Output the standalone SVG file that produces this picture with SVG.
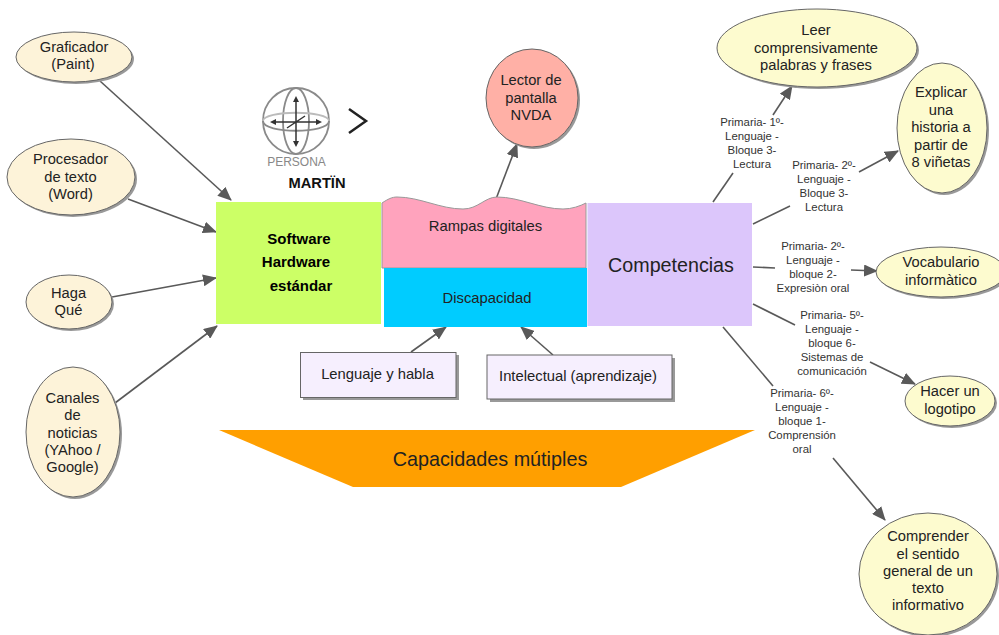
<svg xmlns="http://www.w3.org/2000/svg" width="999" height="635" viewBox="0 0 999 635">
<defs>
<marker id="arr" viewBox="0 0 14 12" refX="13" refY="6" markerWidth="14" markerHeight="12" markerUnits="userSpaceOnUse" orient="auto"><path d="M0 0L14 6L0 12Z" fill="#595959"/></marker>
</defs>
<style>
text{font-family:"Liberation Sans",Arial,sans-serif;fill:#222;text-anchor:middle}
.c{fill:none;stroke:#595959;stroke-width:1.6}
.a{marker-end:url(#arr)}
.s{fill:#999}
.n{stroke:#666;stroke-width:1}
.y{fill:#fdfbcf}
.o{fill:#fdf3d9}
.t{font-size:14.7px}
.l{font-size:11.4px;fill:#333}
.b{font-size:14.8px}
</style>
<rect width="999" height="635" fill="#fff"/>
<g id="connectors">
<path class="c a" d="M100 81L231 200"/>
<path class="c a" d="M128 199L216 232"/>
<path class="c a" d="M112 297L216 278"/>
<path class="c a" d="M115 403L217 326"/>
<path class="c a" d="M496 199L517 144"/>
<path class="c" d="M713 202L733 173"/>
<path class="c a" d="M773 115L792 86"/>
<path class="c" d="M753 224L790 206"/>
<path class="c a" d="M859 172L898 151"/>
<path class="c" d="M753 267L775 268"/>
<path class="c a" d="M851 270L877 271"/>
<path class="c" d="M753 304L795 325"/>
<path class="c a" d="M870 362L915 384"/>
<path class="c" d="M723 327L773 386"/>
<path class="c a" d="M833 458L885 520"/>
<path class="c a" d="M411 352L446 327"/>
<path class="c a" d="M553 355L521 327"/>
</g>
<g id="graficador"><ellipse class="s" cx="76" cy="59" rx="58" ry="25"/><ellipse class="n o" cx="74" cy="57" rx="58" ry="25"/><text class="t" x="74" y="52">Graficador</text><text class="t" x="73" y="69">(Paint)</text></g>
<g id="procesador"><ellipse class="s" cx="73" cy="179" rx="64" ry="38"/><ellipse class="n o" cx="71" cy="177" rx="64" ry="38"/><text class="t" x="70.500" y="164">Procesador</text><text class="t" x="70.500" y="182">de texto</text><text class="t" x="70.500" y="199">(Word)</text></g>
<g id="haga"><ellipse class="s" cx="71" cy="304" rx="43" ry="27"/><ellipse class="n o" cx="69" cy="302" rx="43" ry="27"/><text class="t" x="68.500" y="298">Haga</text><text class="t" x="68.500" y="315">Qué</text></g>
<g id="canales"><ellipse class="s" cx="75" cy="434" rx="47" ry="65"/><ellipse class="n o" cx="73" cy="432" rx="47" ry="65"/><text class="t" x="72.500" y="403">Canales</text><text class="t" x="72.500" y="420">de</text><text class="t" x="72.500" y="438">noticias</text><text class="t" x="72.500" y="455">(YAhoo /</text><text class="t" x="72.500" y="472">Google)</text></g>
<g id="persona">
<g fill="none" stroke="#8a8a8a" stroke-width="1.8"><circle cx="296" cy="121" r="33"/><ellipse cx="296" cy="121" rx="13" ry="33"/><path d="M263 121C263 110 329 110 329 121" stroke="#bbb"/><path d="M263 121C263 134 329 134 329 121"/></g>
<path d="M296 100V143M273 122H318M287 128L305 116" stroke="#333" stroke-width="1.500" fill="none"/>
<path d="M296 96l-3 6h6zM296 147l-3 -6h6zM270 122l6 -3v6zM322 122l-6 -3v6z" fill="#333"/>
<text x="296.500" y="166" style="font-size:12px;fill:#888">PERSONA</text>
<path d="M349 109L366 121L349 133" fill="none" stroke="#222" stroke-width="2.500"/>
<text x="317" y="188" style="font-size:14.700px;font-weight:bold;fill:#111">MARTÏN</text>
</g>
<g id="lector"><ellipse class="s" cx="534" cy="100" rx="46" ry="49"/><ellipse class="n" cx="532" cy="98" rx="46" ry="49" fill="#ffb0a6"/><text class="t" x="531" y="85">Lector de</text><text class="t" x="531" y="103">pantalla</text><text class="t" x="531" y="120">NVDA</text></g>
<g id="software"><rect x="216" y="202" width="165" height="122" fill="#ccff66"/><g style="font-size:15px;font-weight:bold"><text x="299" y="244" style="fill:#000">Software</text><text x="296" y="267" style="fill:#000">Hardware</text><text x="301" y="291" style="fill:#000">estándar</text></g></g>
<g id="rampas"><path d="M382 203C388 199 392 197 397 197C420 197 440 209 463 209C478 209 485 197 497 197C520 197 540 209 563 209C572 209 580 206 586 203V268H382Z" fill="#ffa3bd" stroke="#999"/><text class="b" x="485.500" y="231">Rampas digitales</text></g>
<g id="discapacidad"><rect x="384" y="268" width="203" height="59" fill="#00ccff"/><text class="b" x="487" y="303">Discapacidad</text></g>
<g id="competencias"><rect x="587.500" y="203" width="164.500" height="123" fill="#dcc6fb"/><text x="671" y="272" style="font-size:19.700px">Competencias</text></g>
<g id="lenguaje"><rect x="303" y="355" width="156" height="45" class="s"/><rect x="300.500" y="352.500" width="155.500" height="45" class="n" fill="#f6effe"/><text class="b" x="377.500" y="379">Lenguaje y habla</text></g>
<g id="intelectual"><rect x="490" y="358" width="185" height="44" class="s"/><rect x="487" y="355" width="185" height="44" class="n" fill="#f6effe"/><text class="b" x="578" y="381">Intelectual (aprendizaje)</text></g>
<g id="capacidades"><path d="M219 430H755L621 487H353Z" fill="#ff9f00"/><text x="490" y="466" style="font-size:19.800px">Capacidades mútiples</text></g>
<g id="leer"><ellipse class="s" cx="819" cy="50" rx="100" ry="39"/><ellipse class="n y" cx="817" cy="48" rx="100" ry="39"/><text class="t" x="816" y="35">Leer</text><text class="t" x="816" y="53">comprensivamente</text><text class="t" x="816" y="70">palabras y frases</text></g>
<g id="explicar"><ellipse class="s" cx="944" cy="130" rx="45" ry="65"/><ellipse class="n y" cx="942" cy="128" rx="45" ry="65"/><text class="t" x="941" y="97">Explicar</text><text class="t" x="941" y="115">una</text><text class="t" x="941" y="132">historia a</text><text class="t" x="941" y="150">partir de</text><text class="t" x="941" y="167">8 viñetas</text></g>
<g id="vocabulario"><ellipse class="s" cx="943" cy="274" rx="65" ry="25"/><ellipse class="n y" cx="941" cy="272" rx="65" ry="25"/><text class="t" x="941" y="267">Vocabulario</text><text class="t" x="941" y="285">informàtico</text></g>
<g id="logotipo"><ellipse class="s" cx="952" cy="403" rx="45" ry="25"/><ellipse class="n y" cx="950" cy="401" rx="45" ry="25"/><text class="t" x="950" y="396">Hacer un</text><text class="t" x="950" y="414">logotipo</text></g>
<g id="comprender"><ellipse class="s" cx="930" cy="576" rx="69" ry="61"/><ellipse class="n y" cx="928" cy="574" rx="69" ry="61"/><text class="t" x="928" y="541">Comprender</text><text class="t" x="928" y="559">el sentido</text><text class="t" x="928" y="576">general de un</text><text class="t" x="928" y="593">texto</text><text class="t" x="928" y="610">informativo</text></g>
<g id="labels">
<text class="l" x="752" y="126">Primaria- 1º-</text><text class="l" x="752" y="140">Lenguaje -</text><text class="l" x="752" y="154">Bloque 3-</text><text class="l" x="752" y="168">Lectura</text>
<text class="l" x="824" y="169">Primaria- 2º-</text><text class="l" x="824" y="183">Lenguaje -</text><text class="l" x="824" y="197">Bloque 3-</text><text class="l" x="824" y="211">Lectura</text>
<text class="l" x="813" y="250">Primaria- 2º-</text><text class="l" x="813" y="264">Lenguaje -</text><text class="l" x="813" y="278">bloque 2-</text><text class="l" x="813" y="292">Expresiòn oral</text>
<text class="l" x="832" y="319">Primaria- 5º-</text><text class="l" x="832" y="333">Lenguaje -</text><text class="l" x="832" y="347">bloque 6-</text><text class="l" x="832" y="361">Sistemas de</text><text class="l" x="832" y="375">comunicación</text>
<text class="l" x="802" y="397">Primaria- 6º-</text><text class="l" x="802" y="411">Lenguaje -</text><text class="l" x="802" y="425">bloque 1-</text><text class="l" x="802" y="439">Comprensión</text><text class="l" x="802" y="453">oral</text>
</g>
</svg>
